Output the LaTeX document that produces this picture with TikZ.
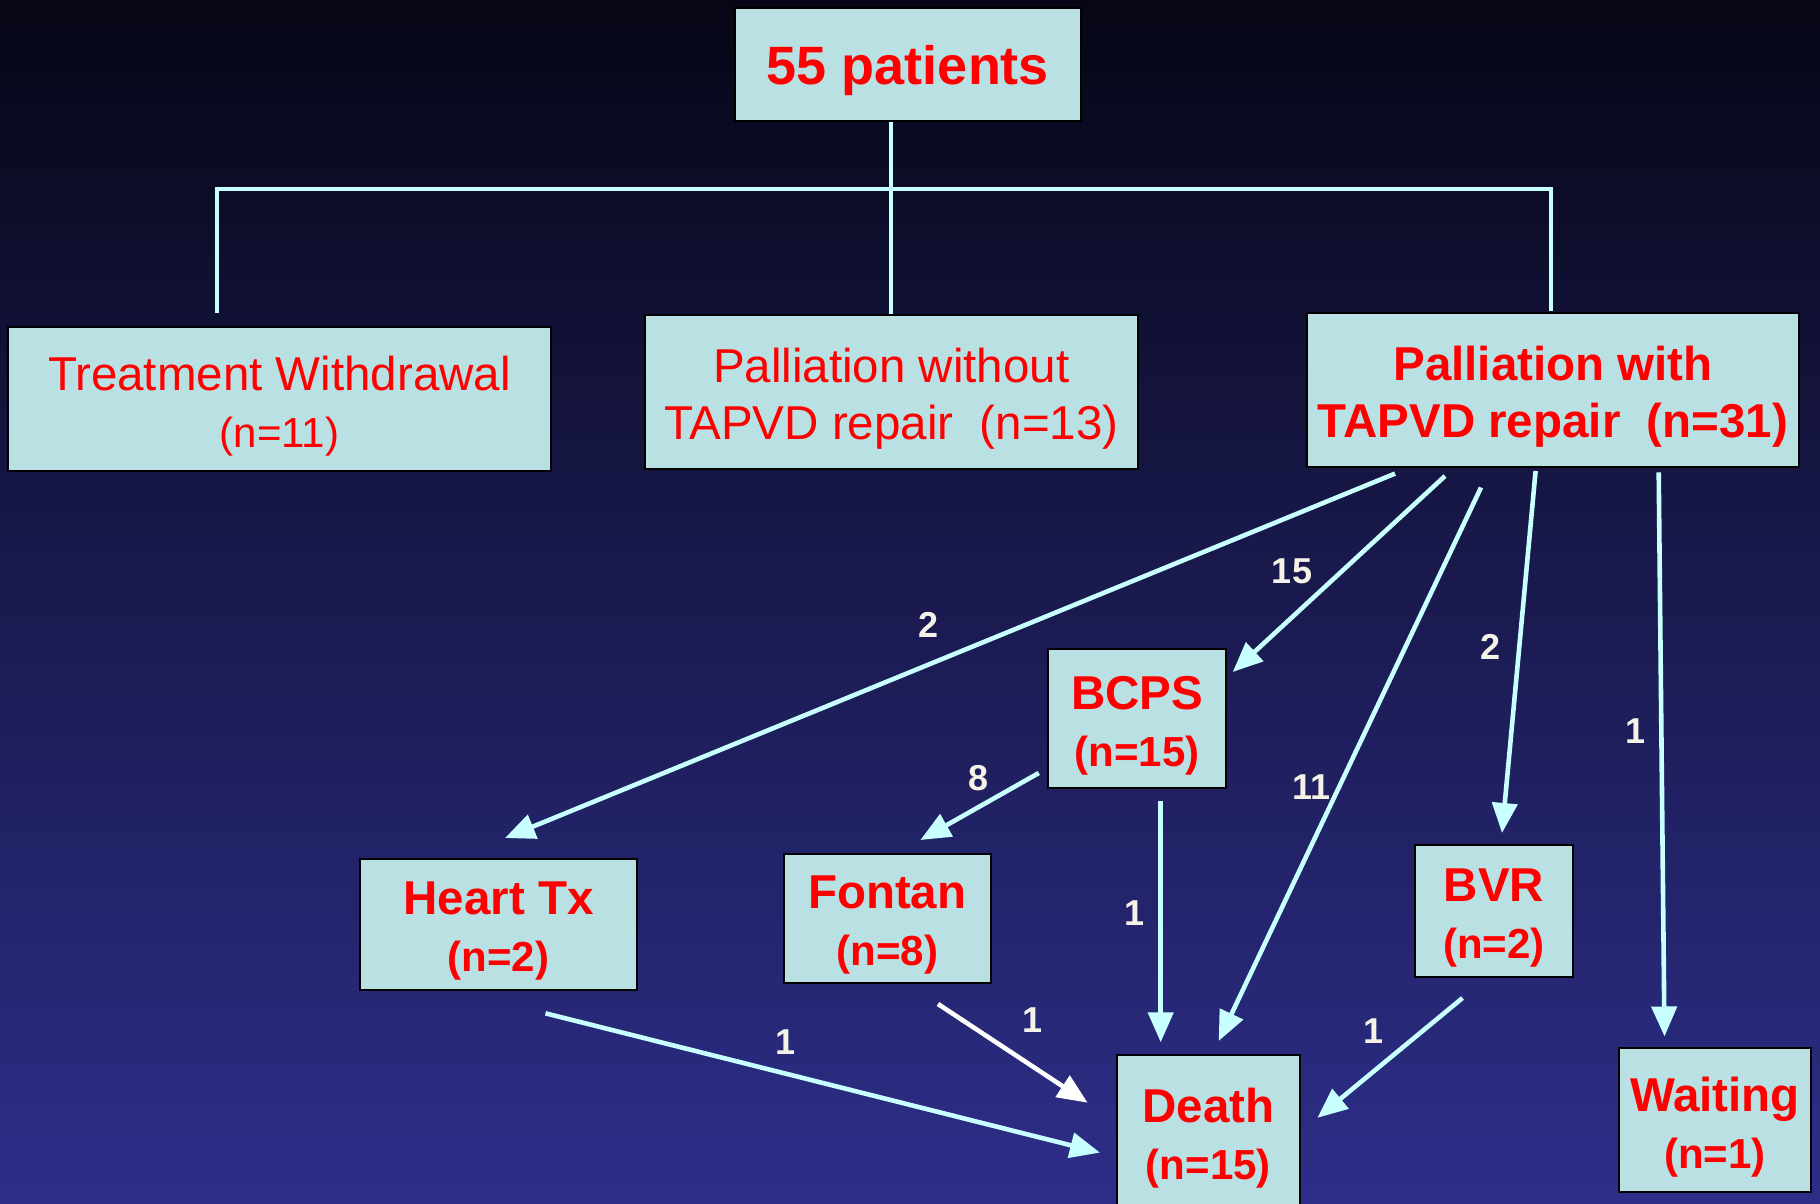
\documentclass[tikz,border=0pt]{standalone}
\usepackage{fontspec}
\setmainfont{Liberation Sans}
\usetikzlibrary{arrows.meta}
\definecolor{bgtop}{RGB}{6,6,22}
\definecolor{bgbot}{RGB}{46,46,138}
\definecolor{boxfill}{RGB}{185,224,227}
\definecolor{linec}{RGB}{200,255,255}
\definecolor{lblc}{RGB}{245,242,232}
\definecolor{txtred}{RGB}{255,0,0}
\newcommand{\nsmall}{\fontsize{21pt}{28pt}\selectfont}
\begin{document}
\begin{tikzpicture}[x=0.5pt,y=-0.5pt,
 box/.style={draw=black,line width=1pt,fill=boxfill,inner sep=0pt},
 txt/.style={text=txtred,align=center,inner sep=0pt,font=\fontsize{23.75pt}{28.5pt}\selectfont\bfseries},
 txtn/.style={txt,font=\fontsize{23.75pt}{28.5pt}\selectfont},
 tree/.style={draw=linec,line width=2.2pt},
 arr/.style={draw=linec,line width=2.3pt,-{Triangle[length=15pt,width=12.5pt]}},
 lbl/.style={text=lblc,font=\fontsize{18pt}{18pt}\selectfont\bfseries,inner sep=0pt}]
\shade[top color=bgtop,bottom color=bgbot] (0,0) rectangle (1820,1204);
\useasboundingbox (0,0) rectangle (1820,1204);

% boxes
\node[box,minimum width=173pt,minimum height=56.5pt] (top) at (908,64.5) {};
\node[box,minimum width=271.5pt,minimum height=72pt] (TW) at (279.5,399) {};
\node[box,minimum width=246.25pt,minimum height=77.25pt] (PWO) at (891.25,391.75) {};
\node[box,minimum width=246pt,minimum height=76.8pt] (PW) at (1553,389.8) {};
\node[box,minimum width=89pt,minimum height=69.5pt] (BCPS) at (1137,718.5) {};
\node[box,minimum width=138.5pt,minimum height=65.5pt] (HTx) at (498.5,924.5) {};
\node[box,minimum width=103.75pt,minimum height=64.5pt] (Fontan) at (887.25,918.5) {};
\node[box,minimum width=79pt,minimum height=66pt] (BVR) at (1494,911) {};
\node[box,minimum width=91.7pt,minimum height=78.5pt] (Death) at (1208.3,1133.5) {};
\node[box,minimum width=96pt,minimum height=72pt] (Wait) at (1715,1120) {};

% texts
\node[txt,font=\fontsize{27pt}{30pt}\selectfont\bfseries] (top-t) at ([yshift=-3pt]top.center) {55 patients};
\node[txtn] (TW-t) at ([yshift=-3.5pt]TW.center) {Treatment Withdrawal\\{\nsmall(n=11)}};
\node[txtn] (PWO-t) at ([yshift=-3.5pt]PWO.center) {Palliation without\\TAPVD repair\ \ (n=13)};
\node[txt] (PW-t) at ([yshift=-3.5pt]PW.center) {Palliation with\\TAPVD repair\ \ (n=31)};
\node[txt] (BCPS-t) at ([yshift=-3.5pt]BCPS.center) {BCPS\\{\nsmall(n=15)}};
\node[txt] (HTx-t) at ([yshift=-3.5pt]HTx.center) {Heart Tx\\{\nsmall(n=2)}};
\node[txt] (Fontan-t) at ([yshift=-3.5pt]Fontan.center) {Fontan\\{\nsmall(n=8)}};
\node[txt] (BVR-t) at ([yshift=-3.5pt]BVR.center) {BVR\\{\nsmall(n=2)}};
\node[txt] (Death-t) at ([yshift=-2.5pt]Death.center) {Death\\{\nsmall(n=15)}};
\node[txt] (Wait-t) at ([yshift=-3.5pt]Wait.center) {Waiting\\{\nsmall(n=1)}};

% tree
\coordinate (bl) at (217,189);
\coordinate (br) at (1551,189);
\coordinate (tl) at (217,313);
\coordinate (tr) at (1551,311);
\draw[tree] (tl) -- (bl) -- (br) -- (tr);
\draw[tree] (top.south -| PWO.north) -- (PWO.north);

% arrow end points
\coordinate (s1) at (1395,473.6);  \coordinate (e1) at (505,838);
\coordinate (s2) at (1445,476);    \coordinate (e2) at (1232.7,672);
\coordinate (s3) at (1481,487.5);  \coordinate (e3) at (1218.7,1041);
\coordinate (s4) at (1535.6,471);  \coordinate (e4) at (1502,833);
\coordinate (s5) at (1658.7,472.4);\coordinate (e5) at (1664.5,1036.5);
\coordinate (s6) at (1038.8,773);  \coordinate (e6) at (920.4,840);
\coordinate (s7) at (1160.7,801);  \coordinate (e7) at (1160.7,1042.3);
\coordinate (s8) at (545.5,1013.3);\coordinate (e8) at (1100,1152.6);
\coordinate (s9) at (938,1004);    \coordinate (e9) at (1087.6,1102.7);
\coordinate (s10) at (1462.5,998); \coordinate (e10) at (1317.4,1117.8);

\draw[arr] (s1) -- (e1);
\draw[arr] (s2) -- (e2);
\draw[arr] (s3) -- (e3);
\draw[arr] (s4) -- (e4);
\draw[arr] (s5) -- (e5);
\draw[arr] (s6) -- (e6);
\draw[arr] (s7) -- (e7);
\draw[arr] (s8) -- (e8);
\draw[arr,draw=white] (s9) -- (e9);
\draw[arr] (s10) -- (e10);

% labels
\node[lbl] (l1) at (928.6,624.5) {2};
\node[lbl] (l2) at (1292,571) {15};
\node[lbl] (l3) at (1311.6,787) {11};
\node[lbl] (l4) at (1490,646.5) {2};
\node[lbl] (l5) at (1635.5,731) {1};
\node[lbl] (l6) at (978.5,777.7) {8};
\node[lbl] (l7) at (1134,913.5) {1};
\node[lbl] (l8) at (785.8,1042.3) {1};
\node[lbl] (l9) at (1032,1020) {1};
\node[lbl] (l10) at (1373,1030.7) {1};
\end{tikzpicture}
\end{document}
